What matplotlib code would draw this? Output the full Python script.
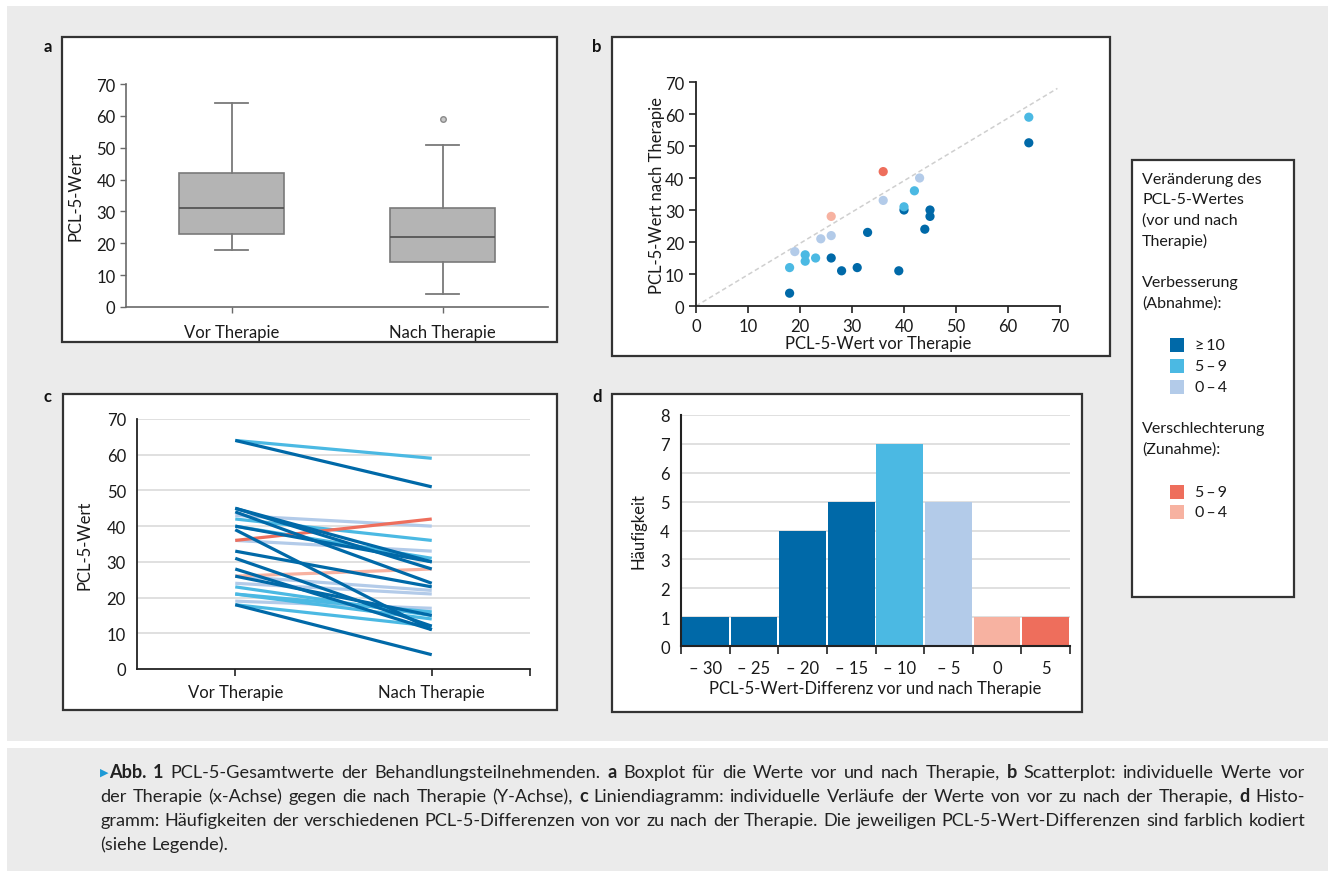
import matplotlib
matplotlib.use("Agg")
import matplotlib.pyplot as plt
from matplotlib.patches import Rectangle
from matplotlib.ticker import FixedLocator, NullFormatter

W, H = 1328, 879
FONT = ['Lato', 'DejaVu Sans']
plt.rcParams['font.family'] = FONT

# ---------------- data ----------------
pre = [18, 18, 19, 21, 21, 23, 24, 26, 26, 26, 28, 31, 33, 36, 36, 39, 40, 40, 42, 43, 44, 45, 45, 64, 64]
post = [4, 12, 17, 16, 14, 15, 21, 22, 28, 15, 11, 12, 23, 42, 33, 11, 31, 30, 36, 40, 24, 30, 28, 59, 51]

box_labels = ["Vor Therapie", "Nach Therapie"]
box_whislo = [18, 4]
box_q1 = [23, 14]
box_med = [31, 22]
box_q3 = [42, 31]
box_whishi = [64, 51]
box_fliers = [[], [59]]

hist_labels = ["\u2013 30", "\u2013 25", "\u2013 20", "\u2013 15", "\u2013 10", "\u2013 5", "0", "5"]
hist_counts = [1, 1, 4, 5, 7, 5, 1, 1]
hist_groups = ["d", "d", "d", "d", "m", "l", "s", "r"]

ref_x = [0, 69.5]
ref_y = [0, 68]

COL = {"d": "#0069a8", "m": "#4bb9e3", "l": "#b3cbe9", "r": "#ee6e5c", "s": "#f7b2a1"}


def group(d):
    if d <= -10:
        return "d"
    if d <= -5:
        return "m"
    if d <= 0:
        return "l"
    if d <= 4:
        return "s"
    return "r"


groups = [group(b - a) for a, b in zip(pre, post)]

fig = plt.figure(figsize=(W / 100, H / 100), dpi=100)
fig.patch.set_facecolor("white")


def rect_px(x0, y0, x1, y1, **kw):
    r = Rectangle((x0 / W, 1 - y1 / H), (x1 - x0) / W, (y1 - y0) / H,
                  transform=fig.transFigure, **kw)
    fig.add_artist(r)
    return r


def add_ax(x0, y0, x1, y1):
    ax = fig.add_axes([x0 / W, 1 - y1 / H, (x1 - x0) / W, (y1 - y0) / H])
    ax.set_facecolor("none")
    return ax


def fig_text(x, y, s, **kw):
    return fig.text(x / W, 1 - y / H, s, **kw)


# backgrounds
rect_px(7, 7, 1328, 742, facecolor="#ebebeb", edgecolor="none", zorder=-20)
rect_px(7, 749, 1328, 872, facecolor="#ebebeb", edgecolor="none", zorder=-20)

FR = dict(facecolor="white", edgecolor="#333333", lw=1.6, zorder=-10)
rect_px(62, 38, 557, 343, **FR)
rect_px(612, 38, 1110, 357, **FR)
rect_px(63, 395, 557, 711, **FR)
rect_px(612, 395, 1082, 713, **FR)
rect_px(1132, 161, 1294, 598, **FR)

for lab, x, y in [("a", 48, 47), ("b", 597, 47), ("c", 48, 397), ("d", 597, 397)]:
    fig_text(x, y, lab, fontsize=12, fontweight="bold", ha="center", va="center", color="#111")

TK = 12
TXT = "#1a1a1a"

# ---------------- panel a: boxplot ----------------
axa = add_ax(126, 85, 548, 308)
stats = []
for i in range(2):
    stats.append(dict(label=box_labels[i], whislo=box_whislo[i], q1=box_q1[i], med=box_med[i],
                      q3=box_q3[i], whishi=box_whishi[i], fliers=box_fliers[i]))
axa.bxp(stats, positions=[0, 1], widths=0.5, capwidths=0.16, patch_artist=True,
        boxprops=dict(facecolor="#b4b4b4", edgecolor="#7a7a7a", lw=1.2),
        medianprops=dict(color="#555555", lw=1.3),
        whiskerprops=dict(color="#7a7a7a", lw=1.3),
        capprops=dict(color="#7a7a7a", lw=1.3),
        flierprops=dict(marker="o", markersize=4, markerfacecolor="#c8c8c8",
                        markeredgecolor="#8a8a8a", markeredgewidth=1.0))
axa.set_xlim(-0.5, 1.5)
axa.set_ylim(0, 70)
axa.set_yticks(range(0, 71, 10))
axa.set_xticks([0, 1])
axa.set_xticklabels(box_labels)
for s in ["top", "right"]:
    axa.spines[s].set_visible(False)
for s in ["left", "bottom"]:
    axa.spines[s].set_color("#6a6a6a")
    axa.spines[s].set_linewidth(1.2)
axa.tick_params(axis="both", labelsize=TK, colors="#6a6a6a", labelcolor=TXT, length=4, width=1.0)
axa.tick_params(axis="x", pad=8)
axa.set_ylabel("PCL-5-Wert", fontsize=TK, color=TXT, labelpad=9)

# ---------------- panel b: scatter ----------------
axb = add_ax(696, 83, 1060, 307)
axb.plot(ref_x, ref_y, ls=(0, (3, 2)), color="#cfcfcf", lw=1.1, zorder=1)
for g in ["l", "d", "m", "s", "r"]:
    xs = [a for a, gg in zip(pre, groups) if gg == g]
    ys = [b for b, gg in zip(post, groups) if gg == g]
    axb.scatter(xs, ys, s=44, color=COL[g], edgecolors="none", zorder=3, clip_on=False)
axb.set_xlim(0, 70)
axb.set_ylim(0, 70)
axb.set_xticks(range(0, 71, 10))
axb.set_yticks(range(0, 71, 10))
for s in ["top", "right"]:
    axb.spines[s].set_visible(False)
for s in ["left", "bottom"]:
    axb.spines[s].set_color("#222222")
    axb.spines[s].set_linewidth(1.3)
axb.tick_params(axis="both", labelsize=TK, colors="#222", labelcolor=TXT, length=5, width=1.2)
axb.set_xlabel("PCL-5-Wert vor Therapie", fontsize=TK, color=TXT, labelpad=1)
axb.set_ylabel("PCL-5-Wert nach Therapie", fontsize=TK, color=TXT, labelpad=0)

# ---------------- panel c: lines ----------------
axc = add_ax(137, 420, 530, 670)
for y in range(10, 71, 10):
    axc.axhline(y, color="#dadada", lw=1.2, zorder=0)
order = ["l", "s", "m", "r", "d"]
for g in order:
    for a, b, gg in zip(pre, post, groups):
        if gg == g:
            axc.plot([0, 1], [a, b], color=COL[g], lw=2.3, solid_capstyle="butt", zorder=2)
axc.set_xlim(-0.5, 1.5)
axc.set_ylim(0, 70)
axc.set_yticks(range(0, 71, 10))
axc.set_xticks([0, 1])
axc.set_xticklabels(box_labels)
axc.xaxis.set_minor_locator(FixedLocator([1.5]))
for s in ["top", "right"]:
    axc.spines[s].set_visible(False)
for s in ["left", "bottom"]:
    axc.spines[s].set_color("#222222")
    axc.spines[s].set_linewidth(1.3)
axc.tick_params(axis="y", labelsize=TK, labelcolor=TXT, length=0, pad=8)
axc.tick_params(axis="x", which="both", labelsize=TK, labelcolor=TXT, length=5, width=1.2,
                colors="#222", pad=6)
axc.tick_params(axis="x", labelcolor=TXT)
axc.set_ylabel("PCL-5-Wert", fontsize=TK, color=TXT, labelpad=10)

# ---------------- panel d: histogram ----------------
axd = add_ax(681, 416, 1070, 647)
for y in range(1, 9):
    axd.axhline(y, color="#dadada", lw=1.2, zorder=0)
pos = [i + 0.5 for i in range(len(hist_counts))]
axd.bar(pos, hist_counts, width=0.96, color=[COL[g] for g in hist_groups], zorder=2)
axd.set_xlim(0, len(hist_counts))
axd.set_ylim(0, 8)
axd.set_yticks(range(0, 9))
axd.xaxis.set_major_locator(FixedLocator(list(range(len(hist_counts) + 1))))
axd.xaxis.set_major_formatter(NullFormatter())
axd.xaxis.set_minor_locator(FixedLocator(pos))
axd.set_xticklabels(hist_labels, minor=True)
for s in ["top", "right"]:
    axd.spines[s].set_visible(False)
for s in ["left", "bottom"]:
    axd.spines[s].set_color("#222222")
    axd.spines[s].set_linewidth(1.5)
axd.tick_params(axis="y", labelsize=TK, labelcolor=TXT, length=0, pad=8)
axd.tick_params(axis="x", which="major", length=6, width=1.2, colors="#222")
axd.tick_params(axis="x", which="minor", length=0, labelsize=TK, labelcolor=TXT, pad=10)
axd.set_xlabel("PCL-5-Wert-Differenz vor und nach Therapie", fontsize=TK, color=TXT, labelpad=3)
axd.set_ylabel("Häufigkeit", fontsize=TK, color=TXT, labelpad=10)

# ---------------- legend ----------------
LG = 11.5
lines_top = [("Veränderung des", 180), ("PCL-5-Wertes", 200), ("(vor und nach", 221), ("Therapie)", 241),
             ("Verbesserung", 283), ("(Abnahme):", 304), ("Verschlechterung", 429), ("(Zunahme):", 450)]
for s, y in lines_top:
    fig_text(1142, y, s, fontsize=LG, color=TXT, va="center", ha="left")
entries = [("\u2265\u200910", "d", 346), ("5\u2009\u2013\u20099", "m", 367), ("0\u2009\u2013\u20094", "l", 388),
           ("5\u2009\u2013\u20099", "r", 493), ("0\u2009\u2013\u20094", "s", 513)]
for s, g, y in entries:
    rect_px(1170, y - 7, 1184, y + 7, facecolor=COL[g], edgecolor="none", zorder=1)
    fig_text(1195, y, s, fontsize=LG, color=TXT, va="center", ha="left")

# ---------------- caption ----------------
cap_lines = [
    [("Abb. 1", True), (" PCL-5-Gesamtwerte der Behandlungsteilnehmenden. ", False), ("a", True),
     (" Boxplot für die Werte vor und nach Therapie, ", False), ("b", True),
     (" Scatterplot: individuelle Werte vor", False)],
    [("der Therapie (x-Achse) gegen die nach Therapie (Y-Achse), ", False), ("c", True),
     (" Liniendiagramm: individuelle Verläufe der Werte von vor zu nach der Therapie, ", False),
     ("d", True), (" Histo-", False)],
    [("gramm: Häufigkeiten der verschiedenen PCL-5-Differenzen von vor zu nach der Therapie. "
      "Die jeweiligen PCL-5-Wert-Differenzen sind farblich kodiert", False)],
    [("(siehe Legende).", False)],
]
cap_y = [773, 797, 821, 845]
cap_x = [109, 100, 100, 100]
cap_justify = [True, True, True, False]
CAP_END = 1305
renderer = fig.canvas.get_renderer()


def wwidth(s, size, bold):
    t = fig_text(0, 0, s, fontsize=size, fontweight="bold" if bold else "normal")
    w = t.get_window_extent(renderer).width
    t.remove()
    return w


def tokens(pieces):
    out = []
    for s, b in pieces:
        for w in s.split():
            out.append((w, b))
    return out


base = 10.0
sp_base = wwidth("a a", base, False) - wwidth("aa", base, False)
scales = []
for pieces, x0, j in zip(cap_lines, cap_x, cap_justify):
    if not j:
        continue
    tk = tokens(pieces)
    nat = sum(wwidth(w, base, b) for w, b in tk) + sp_base * (len(tk) - 1)
    scales.append((CAP_END - x0) / nat)
CAPF = base * min(scales) * 0.995
sp = wwidth("a a", CAPF, False) - wwidth("aa", CAPF, False)

fig_text(100, cap_y[0], "\u25b6", fontsize=8, color="#1e9ad6", va="center", ha="left",
         family="DejaVu Sans")
for pieces, y, x0, j in zip(cap_lines, cap_y, cap_x, cap_justify):
    tk = tokens(pieces)
    widths = [wwidth(w, CAPF, b) for w, b in tk]
    gap = (CAP_END - x0 - sum(widths)) / (len(tk) - 1) if (j and len(tk) > 1) else sp
    x = x0
    for (w, b), ww in zip(tk, widths):
        fig_text(x, y, w, fontsize=CAPF, color="#222", va="center", ha="left",
                 fontweight="bold" if b else "normal")
        x += ww + gap

fig.savefig("out.png", dpi=100, facecolor="white")
